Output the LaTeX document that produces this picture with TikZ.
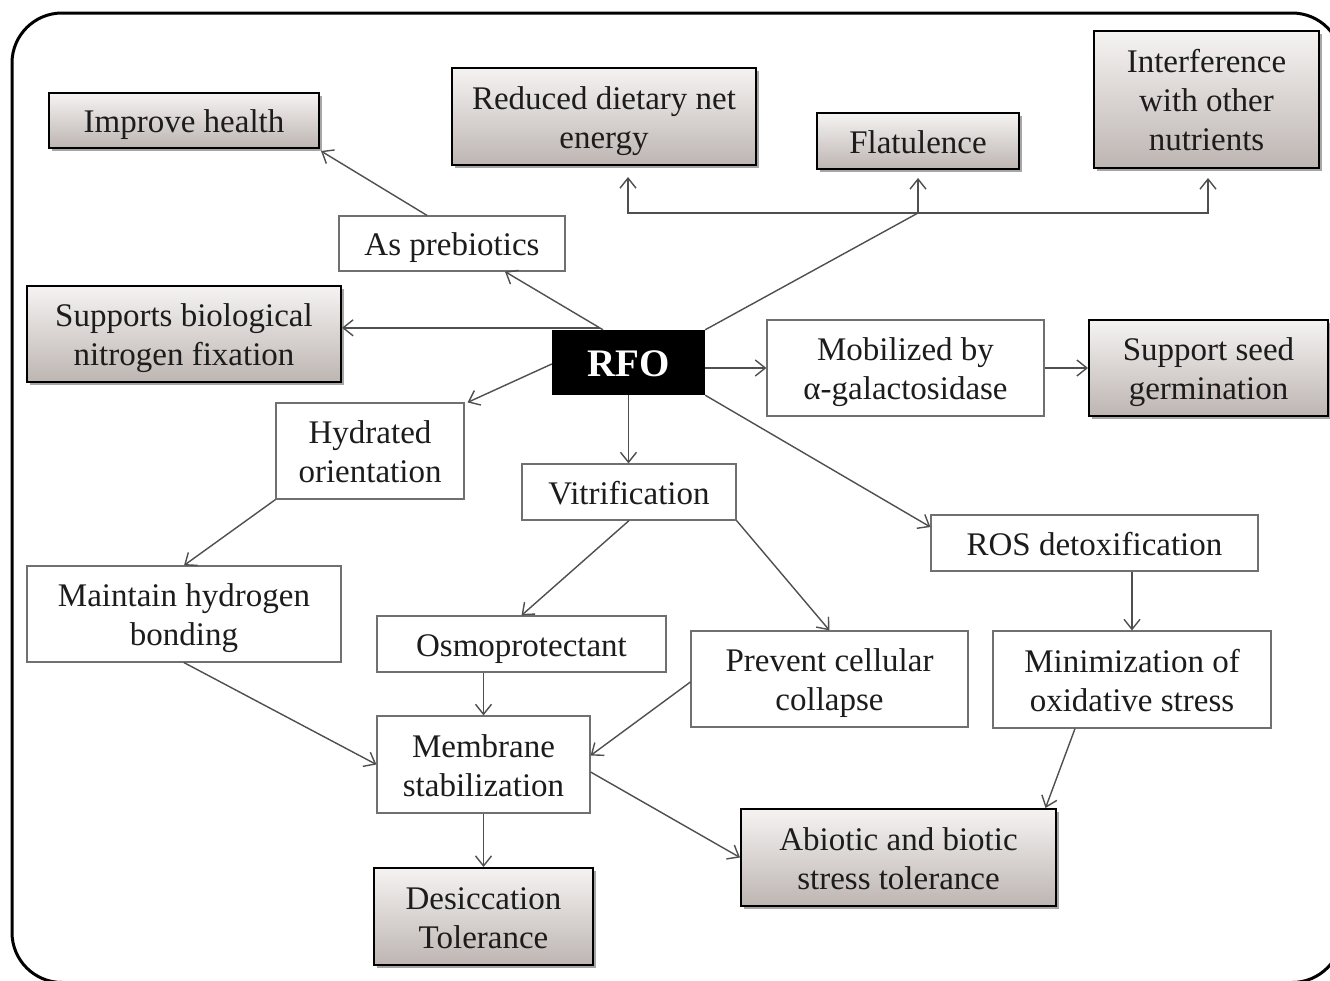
\documentclass[tikz,border=0pt]{standalone}
\usepackage{fontspec}
\setmainfont{Liberation Serif}
\usetikzlibrary{arrows.meta,shadows,calc}
\definecolor{txt}{HTML}{1C1C1C}
\definecolor{lin}{HTML}{4F4F4F}
\definecolor{wbord}{HTML}{707070}
\definecolor{gtop}{HTML}{F5F3F2}
\definecolor{gbot}{HTML}{BDB5B2}
\newcommand\tx[1]{\raisebox{-4.5pt}[\height][\depth]{\begin{tabular}{@{}c@{}}#1\end{tabular}}}
\tikzset{
  base/.style={text=txt, inner sep=0pt,
    font=\fontsize{33}{39}\selectfont},
  gbox/.style={base, draw=black, line width=2pt, top color=gtop, bottom color=gbot,
    drop shadow={shadow xshift=2.5pt, shadow yshift=-3pt, opacity=0.35, fill=black}},
  wbox/.style={base, draw=wbord, line width=1.2pt, fill=white},
  arr/.style={draw=lin, line width=1.4pt, -{Straight Barb[length=10pt,width=16pt,line width=1.4pt]}},
  lnk/.style={draw=lin, line width=1.4pt},
}
\begin{document}
\begin{tikzpicture}[x=1pt,y=-1pt]
\useasboundingbox (0,0) rectangle (1330,980);
\fill[white] (0,0) rectangle (1330,980);
\begin{scope}
\clip (0,0) rectangle (1330,980);
\draw[line width=3pt, rounded corners=50pt] (12,13) rectangle (1342,982.5);
\end{scope}

% grey boxes
\node[gbox, minimum width=270pt, minimum height=55pt] (imp) at (184,120.5) {\tx{Improve health}};
\node[gbox, minimum width=304pt, minimum height=97pt] (red) at (604,116.5) {\tx{Reduced dietary net\\energy}};
\node[gbox, minimum width=202pt, minimum height=56pt] (flat) at (918,141) {\tx{Flatulence}};
\node[gbox, minimum width=225pt, minimum height=137pt] (intf) at (1206.5,99.5) {\tx{Interference\\with other\\nutrients}};
\node[gbox, minimum width=314pt, minimum height=96pt] (sup) at (184,334) {\tx{Supports biological\\nitrogen fixation}};
\node[gbox, minimum width=239pt, minimum height=96pt] (seed) at (1208.5,368) {\tx{Support seed\\germination}};
\node[gbox, minimum width=315pt, minimum height=97pt] (abi) at (898.5,857.5) {\tx{Abiotic and biotic\\stress tolerance}};
\node[gbox, minimum width=219pt, minimum height=97pt] (des) at (483.5,916.5) {\tx{Desiccation\\Tolerance}};

% white boxes
\node[wbox, minimum width=226pt, minimum height=55pt] (preb) at (452,243.5) {\tx{As prebiotics}};
\node[wbox, minimum width=277pt, minimum height=96pt] (mob) at (905.5,368) {\tx{Mobilized by\\α-galactosidase}};
\node[wbox, minimum width=188pt, minimum height=96pt] (hyd) at (370,451) {\tx{Hydrated\\orientation}};
\node[wbox, minimum width=214pt, minimum height=56pt] (vit) at (629,492) {\tx{Vitrification}};
\node[wbox, minimum width=327pt, minimum height=56pt] (ros) at (1094.5,543) {\tx{ROS detoxification}};
\node[wbox, minimum width=314pt, minimum height=96pt] (main) at (184,614) {\tx{Maintain hydrogen\\bonding}};
\node[wbox, minimum width=289pt, minimum height=56pt] (osmo) at (521.5,644) {\tx{Osmoprotectant}};
\node[wbox, minimum width=277pt, minimum height=96pt] (prev) at (829.5,679) {\tx{Prevent cellular\\collapse}};
\node[wbox, minimum width=278pt, minimum height=97pt] (mini) at (1132,679.5) {\tx{Minimization of\\oxidative stress}};
\node[wbox, minimum width=213pt, minimum height=97pt] (mem) at (483.5,764.5) {\tx{Membrane\\stabilization}};

% centre
\node[base, fill=black, text=white, minimum width=153pt, minimum height=65pt,
  font=\fontsize{39}{44}\selectfont\bfseries] (rfo) at (628.5,362.5) {\raisebox{-1.5pt}[\height][\depth]{RFO}};

\coordinate (J) at (918,213);

% connectors
\draw[arr] ([xshift=-25.5pt]rfo.north) -- ([xshift=53pt]preb.south);
\draw[arr] ([xshift=-25pt]preb.north) -- ([xshift=1pt,yshift=-2pt]imp.south east);
\draw[lnk] (rfo.north east) -- (J);
\draw[arr] (J) -| ($(red.south)+(24,11)$);
\draw[arr] (J) -- ($(flat.south)+(0,8)$);
\draw[arr] (J) -| ($(intf.south)+(1.5,9)$);
\draw[arr] ([xshift=48pt,yshift=2pt]rfo.north west) -- ([yshift=2pt]rfo.north west -| sup.east);
\draw[arr] ([yshift=-1.5pt]rfo.west) -- ([xshift=3pt]hyd.north east);
\draw[arr] (rfo.east |- mob.west) -- (mob.west);
\draw[arr] (mob.east) -- (seed.west);
\draw[arr] (rfo.south east) -- ([yshift=16pt]ros.west);
\draw[arr] (rfo.south) -- (rfo.south |- vit.north);
\draw[arr] (vit.south) -- (osmo.north);
\draw[arr] (vit.south east) -- (prev.north);
\draw[arr] (hyd.south west) -- (main.north);
\draw[arr] (main.south) -- (mem.west);
\draw[arr] (mem.north |- osmo.south) -- (mem.north);
\draw[arr] ([yshift=-3pt]prev.west) -- ([yshift=9pt]mem.east);
\draw[arr] ([yshift=-7.5pt]mem.east) -- (abi.west);
\draw[arr] (mem.south) -- (des.north);
\draw[arr] (mini.north |- ros.south) -- (mini.north);
\draw[arr] ([xshift=-57pt]mini.south) -- ([xshift=-11.5pt]abi.north east);
\end{tikzpicture}
\end{document}
